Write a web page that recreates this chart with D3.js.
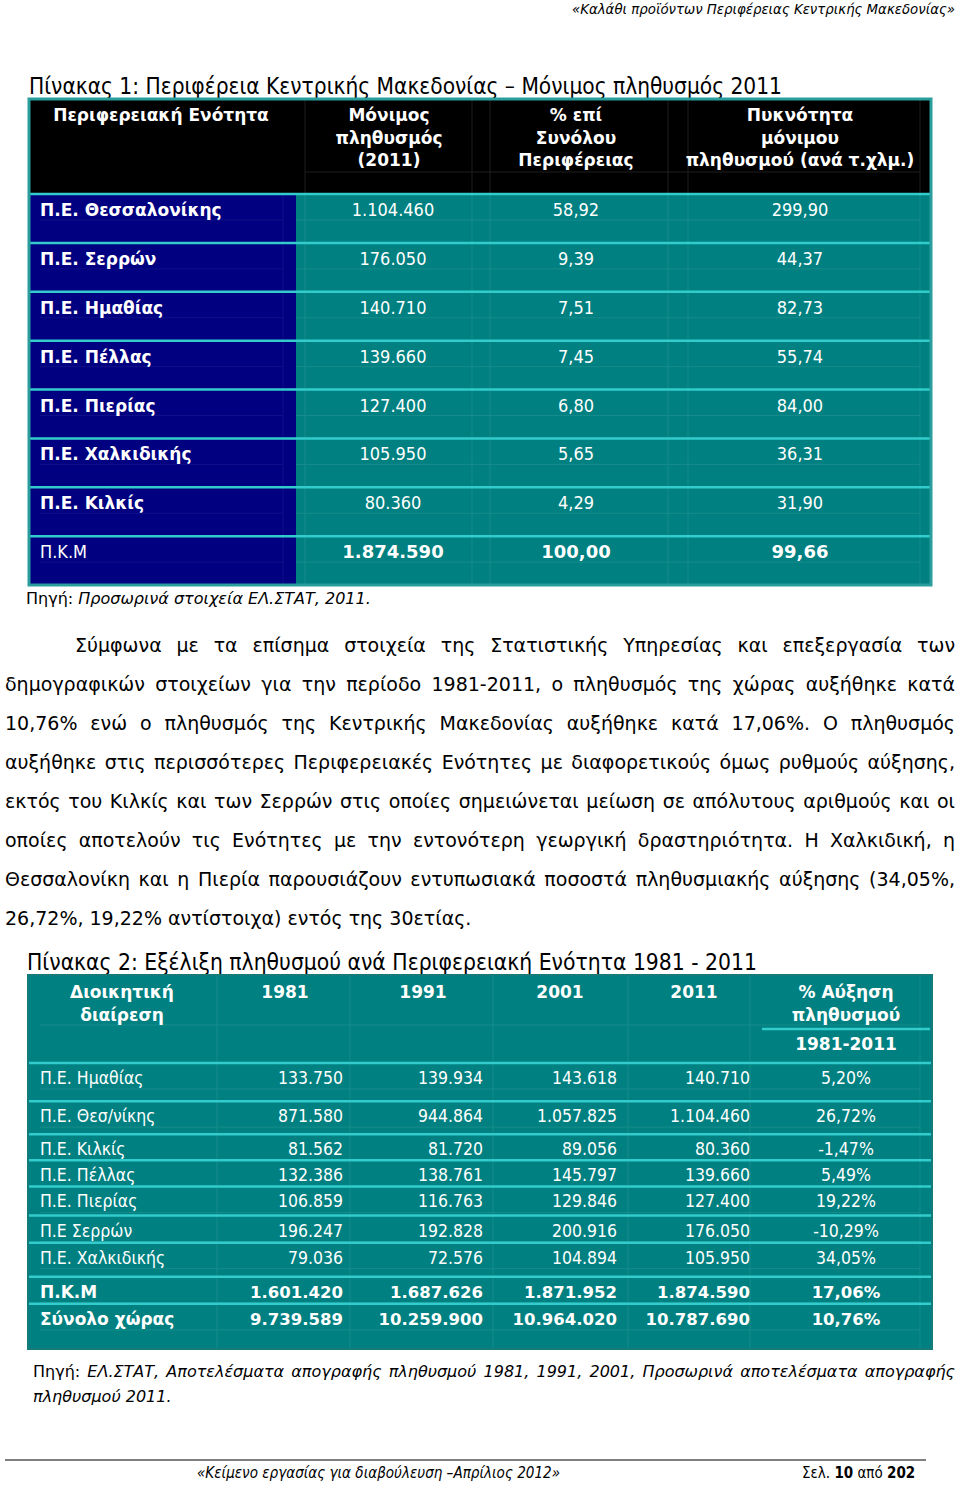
<!DOCTYPE html>
<html>
<head>
<meta charset="utf-8">
<script src="https://cdn.jsdelivr.net/npm/d3@7"></script>
<style>
body { margin: 0; background: #fff; }
svg { display: block; }
</style>
</head>
<body>
<div id="page"></div>
<script>
// ---- data: table 1 (2011 population)
const units1 = ["Π.Ε. Θεσσαλονίκης", "Π.Ε. Σερρών", "Π.Ε. Ημαθίας", "Π.Ε. Πέλλας",
  "Π.Ε. Πιερίας", "Π.Ε. Χαλκιδικής", "Π.Ε. Κιλκίς", "Π.Κ.Μ"];
const pop2011 = [1104460, 176050, 140710, 139660, 127400, 105950, 80360, 1874590];
const shareOfRegion = [58.92, 9.39, 7.51, 7.45, 6.80, 5.65, 4.29, 100.00];
const density = [299.90, 44.37, 82.73, 55.74, 84.00, 36.31, 31.90, 99.66];
const headers1 = [["Περιφερειακή Ενότητα"], ["Μόνιμος", "πληθυσμός", "(2011)"],
  ["% επί", "Συνόλου", "Περιφέρειας"], ["Πυκνότητα", "μόνιμου", "πληθυσμού (ανά τ.χλμ.)"]];

// ---- data: table 2 (1981-2011)
const units2 = ["Π.Ε. Ημαθίας", "Π.Ε. Θεσ/νίκης", "Π.Ε. Κιλκίς", "Π.Ε. Πέλλας", "Π.Ε. Πιερίας",
  "Π.Ε Σερρών", "Π.Ε. Χαλκιδικής", "Π.Κ.Μ", "Σύνολο χώρας"];
const years = ["1981", "1991", "2001", "2011"];
const pop1981 = [133750, 871580, 81562, 132386, 106859, 196247, 79036, 1601420, 9739589];
const pop1991 = [139934, 944864, 81720, 138761, 116763, 192828, 72576, 1687626, 10259900];
const pop2001 = [143618, 1057825, 89056, 145797, 129846, 200916, 104894, 1871952, 10964020];
const pop2011b = [140710, 1104460, 80360, 139660, 127400, 176050, 105950, 1874590, 10787690];
const growth = [5.20, 26.72, -1.47, 5.49, 19.22, -10.29, 34.05, 17.06, 10.76];
const boldRows2 = ["Π.Κ.Μ", "Σύνολο χώρας"];

// ---- page texts
const pageHeader = "«Καλάθι προϊόντων Περιφέρειας Κεντρικής Μακεδονίας»";
const title1 = "Πίνακας 1: Περιφέρεια Κεντρικής Μακεδονίας – Μόνιμος πληθυσμός 2011";
const title2 = "Πίνακας 2: Εξέλιξη πληθυσμού ανά Περιφερειακή Ενότητα 1981 - 2011";
const bodyLines = [
  "Σύμφωνα με τα επίσημα στοιχεία της Στατιστικής Υπηρεσίας και επεξεργασία των",
  "δημογραφικών στοιχείων για την περίοδο 1981-2011, ο πληθυσμός της χώρας αυξήθηκε κατά",
  "10,76% ενώ ο πληθυσμός της Κεντρικής Μακεδονίας αυξήθηκε κατά 17,06%. Ο πληθυσμός",
  "αυξήθηκε στις περισσότερες Περιφερειακές Ενότητες με διαφορετικούς όμως ρυθμούς αύξησης,",
  "εκτός του Κιλκίς και των Σερρών στις οποίες σημειώνεται μείωση σε απόλυτους αριθμούς και οι",
  "οποίες αποτελούν τις Ενότητες με την εντονότερη γεωργική δραστηριότητα. Η Χαλκιδική, η",
  "Θεσσαλονίκη και η Πιερία παρουσιάζουν εντυπωσιακά ποσοστά πληθυσμιακής αύξησης (34,05%,",
  "26,72%, 19,22% αντίστοιχα) εντός της 30ετίας."
];
const source2 = ["ΕΛ.ΣΤΑΤ, Αποτελέσματα απογραφής πληθυσμού 1981, 1991, 2001, Προσωρινά αποτελέσματα απογραφής",
  "πληθυσμού 2011."];

// ---- layout
const W = 960, H = 1485;
const SANS = "'DejaVu Sans', Verdana, sans-serif";
const COND = "'DejaVu Sans Condensed', 'DejaVu Sans', sans-serif";
const navy = "#000080", teal = "#008080", cyan = "#33cccc", edge = "#2a9d9d";
const faintTeal = "#178b8b", faintNavy = "#10108a", faintBlack = "#1e1e1e";

const gr = d3.formatLocale({decimal: ",", thousands: ".", grouping: [3], currency: ["", "€"], minus: "-"});
const fInt = gr.format(",d"), fDec = gr.format(",.2f");
const fPct = v => fDec(v) + "%";

const svg = d3.select("#page").append("svg").attr("width", W).attr("height", H);
svg.append("rect").attr("width", W).attr("height", H).attr("fill", "#fff");

function txt(g, x, y, s, o) {
  o = o || {};
  const t = g.append("text").attr("x", x).attr("y", y).text(s)
    .attr("font-family", o.family || COND)
    .attr("font-size", o.size || 17)
    .attr("font-weight", o.weight || "normal")
    .attr("font-style", o.style || "normal")
    .attr("fill", o.fill || "#fff")
    .attr("text-anchor", o.anchor || "start");
  if (o.len) t.attr("textLength", o.len).attr("lengthAdjust", "spacingAndGlyphs");
  return t;
}

// spread words between x0 and x1 (word justification)
function justify(g, words, x0, x1, y, o) {
  const ts = words.map(w => txt(g, 0, y, w.s, Object.assign({}, o, w.o || {})));
  const ws = ts.map(t => t.node().getComputedTextLength());
  const gap = (x1 - x0 - d3.sum(ws)) / (words.length - 1);
  let x = x0;
  ts.forEach((t, i) => { t.attr("x", x); x += ws[i] + gap; });
}

function vline(g, x, y0, y1, c, w) {
  g.append("line").attr("x1", x).attr("x2", x).attr("y1", y0).attr("y2", y1)
    .attr("stroke", c).attr("stroke-width", w || 1);
}
function hline(g, y, x0, x1, c, w) {
  g.append("line").attr("x1", x0).attr("x2", x1).attr("y1", y).attr("y2", y)
    .attr("stroke", c).attr("stroke-width", w || 1);
}

// ---- page header
txt(svg, 955, 14, pageHeader, {size: 14, style: "italic", fill: "#000", anchor: "end", len: 383});

// ---- table 1
txt(svg, 29, 94, title1, {size: 23, fill: "#000", len: 753});

const t1 = {left: 29, right: 931, top: 99, head: 194, bottom: 585};
const edges1 = [29, 296, 482, 678, 931];
const headCenters1 = [161, 389, 576, 800];
const numCenters1 = [393, 576, 800];
const y1 = d3.scaleBand().domain(units1).range([t1.head, t1.bottom]);

const g1 = svg.append("g");
g1.append("rect").attr("x", t1.left).attr("y", t1.top).attr("width", t1.right - t1.left)
  .attr("height", t1.head - t1.top).attr("fill", "#000");
g1.append("rect").attr("x", edges1[0]).attr("y", t1.head).attr("width", edges1[1] - edges1[0])
  .attr("height", t1.bottom - t1.head).attr("fill", navy);
g1.append("rect").attr("x", edges1[1]).attr("y", t1.head).attr("width", t1.right - edges1[1])
  .attr("height", t1.bottom - t1.head).attr("fill", teal);

// faint cell padding lines
[305, 472, 490, 668, 688, 920].forEach(x => {
  vline(g1, x, t1.top, t1.head, faintBlack);
  vline(g1, x, t1.head, t1.bottom, faintTeal);
});
vline(g1, 283, t1.head, t1.bottom, faintNavy);
hline(g1, 172, 305, 920, faintBlack);
units1.forEach(d => {
  hline(g1, y1(d) + 26, 296, 920, faintTeal);
  hline(g1, y1(d) + 26, 40, 283, faintNavy);
});

// row separators
units1.forEach(d => hline(g1, y1(d), t1.left, t1.right, cyan, 2.5));
g1.append("rect").attr("x", t1.left).attr("y", t1.top).attr("width", t1.right - t1.left)
  .attr("height", t1.bottom - t1.top).attr("fill", "none").attr("stroke", edge).attr("stroke-width", 3);

// header texts
headers1.forEach((lines, i) => {
  lines.forEach((s, j) => txt(g1, headCenters1[i], 121 + j * 22.5, s,
    {family: SANS, weight: "bold", size: 17, anchor: "middle"}));
});

// body
units1.forEach((d, i) => {
  const total = d === "Π.Κ.Μ";
  const by = y1(d) + 22;
  txt(g1, 40, by, d, total ? {size: 18} : {family: SANS, weight: "bold", size: 17});
  const vals = [fInt(pop2011[i]), fDec(shareOfRegion[i]), fDec(density[i])];
  vals.forEach((v, k) => txt(g1, numCenters1[k], by, v,
    total ? {family: SANS, weight: "bold", size: 18, anchor: "middle"} : {size: 18, anchor: "middle"}));
});

txt(svg, 26, 604, "Πηγή: ", {family: SANS, size: 16, fill: "#000"})
  .append("tspan").attr("font-style", "italic").text("Προσωρινά στοιχεία ΕΛ.ΣΤΑΤ, 2011.");

// ---- paragraph
const gp = svg.append("g");
const po = {family: SANS, size: 19, fill: "#000"};
bodyLines.forEach((line, i) => {
  const y = 652 + i * 39;
  const x0 = i === 0 ? 75 : 5;
  if (i === bodyLines.length - 1) {
    txt(gp, x0, y, line, po);
  } else {
    justify(gp, line.split(" ").map(s => ({s})), x0, 955, y, po);
  }
});

// ---- table 2
txt(svg, 27, 970, title2, {size: 23, fill: "#000", len: 730});

const t2 = {left: 28, right: 932, top: 975, head: 1063, bottom: 1349};
const rowWeights2 = [38, 33, 26, 26, 29, 27, 34, 27, 45];
const cum2 = [0, ...d3.cumsum(rowWeights2)];
const y2 = d3.scaleLinear().domain([0, d3.sum(rowWeights2)]).range([t2.head, t2.bottom]);
const numRight2 = [343, 483, 617, 750];
const yearCenters = [285, 423, 560, 694];
const pctCenter = 846;

const g2 = svg.append("g");
g2.append("rect").attr("x", t2.left).attr("y", t2.top).attr("width", t2.right - t2.left)
  .attr("height", t2.bottom - t2.top).attr("fill", teal);
[217, 350, 493, 628, 750, 920].forEach(x => vline(g2, x, t2.top, t2.bottom, faintTeal));
hline(g2, 1025, 40, 920, faintTeal);
units2.forEach((d, i) => hline(g2, y2(cum2[i]) + 26, 40, 920, faintTeal));
hline(g2, 1029, 762, 930, cyan, 2.5);
units2.forEach((d, i) => hline(g2, y2(cum2[i]), t2.left, t2.right, cyan, 2.5));
g2.append("rect").attr("x", t2.left).attr("y", t2.top).attr("width", t2.right - t2.left)
  .attr("height", t2.bottom - t2.top).attr("fill", "none").attr("stroke", "#147a7a").attr("stroke-width", 2);

const hb = {family: SANS, weight: "bold", size: 17, anchor: "middle"};
txt(g2, 122, 998, "Διοικητική", hb);
txt(g2, 122, 1021, "διαίρεση", hb);
years.forEach((yr, i) => txt(g2, yearCenters[i], 998, yr, hb));
txt(g2, pctCenter, 998, "% Αύξηση", hb);
txt(g2, pctCenter, 1021, "πληθυσμού", hb);
txt(g2, pctCenter, 1050, years[0] + "-" + years[3], hb);

const series2 = [pop1981, pop1991, pop2001, pop2011b];
units2.forEach((d, i) => {
  const bold = boldRows2.includes(d);
  const by = y2(cum2[i]) + 21;
  const nf = bold ? {family: SANS, weight: "bold", size: 16.5} : {size: 17.5};
  txt(g2, 40, by, d, bold ? {family: SANS, weight: "bold", size: 17} : {size: 17.5});
  series2.forEach((s, k) => txt(g2, numRight2[k], by, fInt(s[i]), Object.assign({anchor: "end"}, nf)));
  txt(g2, pctCenter, by, fPct(growth[i]), Object.assign({anchor: "middle"}, nf));
});

// ---- source 2
const gs = svg.append("g");
justify(gs, [{s: "Πηγή:"}].concat(source2[0].split(" ").map(s => ({s, o: {style: "italic"}}))),
  33, 955, 1377, {family: SANS, size: 16, fill: "#000"});
txt(gs, 33, 1402, source2[1], {family: SANS, size: 16, fill: "#000", style: "italic"});

// ---- footer
hline(svg, 1460, 5, 926, "#000", 1);
txt(svg, 197, 1478, "«Κείμενο εργασίας για διαβούλευση –Απρίλιος 2012»", {size: 15, fill: "#000", style: "italic", len: 363});
const pg = txt(svg, 802, 1478, "Σελ. ", {size: 15, fill: "#000"});
pg.append("tspan").attr("font-weight", "bold").text("10");
pg.append("tspan").text(" από ");
pg.append("tspan").attr("font-weight", "bold").text("202");
</script>
</body>
</html>
